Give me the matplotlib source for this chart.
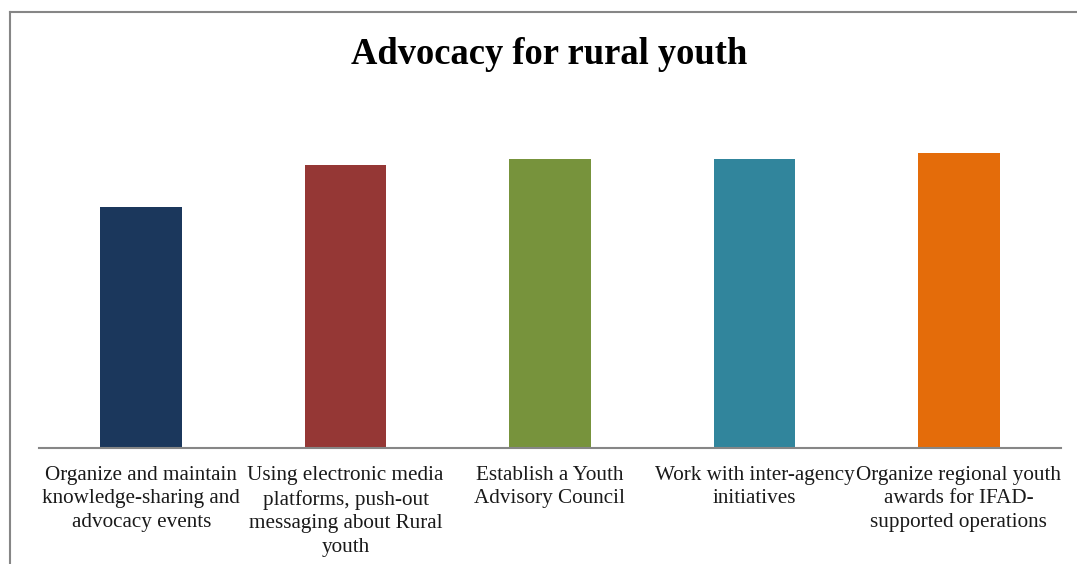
import matplotlib.pyplot as plt
from matplotlib.lines import Line2D

categories = [
    "Organize and maintain\nknowledge-sharing and\nadvocacy events",
    "Using electronic media\nplatforms, push-out\nmessaging about Rural\nyouth",
    "Establish a Youth\nAdvisory Council",
    "Work with inter-agency\ninitiatives",
    "Organize regional youth\nawards for IFAD-\nsupported operations",
]
values = [4.08, 4.8, 4.9, 4.9, 5.0]
colors = ["#1B375C", "#953735", "#77933C", "#31859C", "#E46C0A"]

W, H = 1077, 564
fig = plt.figure(figsize=(W / 100, H / 100), dpi=100)
plt.rcParams['font.family'] = ['Liberation Serif', 'DejaVu Serif']

# plot area in pixels: x 39..1061, baseline y=448, 5.0 -> y=153
left, right = 39, 1061
base = 448
top_val = 6.0
unit = (base - 153) / 5.0
top_px = base - top_val * unit
ax = fig.add_axes([left / W, 1 - base / H, (right - left) / W, (base - top_px) / H])

x = range(len(values))
ax.bar(x, values, width=0.4, color=colors)
ax.set_xlim(-0.5, len(values) - 0.5)
ax.set_ylim(0, top_val)
for s in ['top', 'right', 'left']:
    ax.spines[s].set_visible(False)
ax.spines['bottom'].set_color('#868686')
ax.spines['bottom'].set_linewidth(1.5)
ax.set_yticks([])
ax.set_xticks([])

# category labels under the bars
for i, lab in enumerate(categories):
    ax.text(i, -0.05, lab, transform=ax.get_xaxis_transform(), ha='center', va='top',
            fontsize=15.2, linespacing=1.33, color='#1a1a1a')

fig.text(549 / W, 1 - 54 / H, "Advocacy for rural youth", ha='center', va='center',
         fontsize=26.3, fontweight='bold')

# chart border (top and left visible)
fig.add_artist(Line2D([10 / W, 1], [1 - 12 / H, 1 - 12 / H], color='#868686', lw=1.5,
                      transform=fig.transFigure))
fig.add_artist(Line2D([10 / W, 10 / W], [0, 1 - 12 / H], color='#868686', lw=1.5,
                      transform=fig.transFigure))

fig.savefig('out.png', dpi=100)
